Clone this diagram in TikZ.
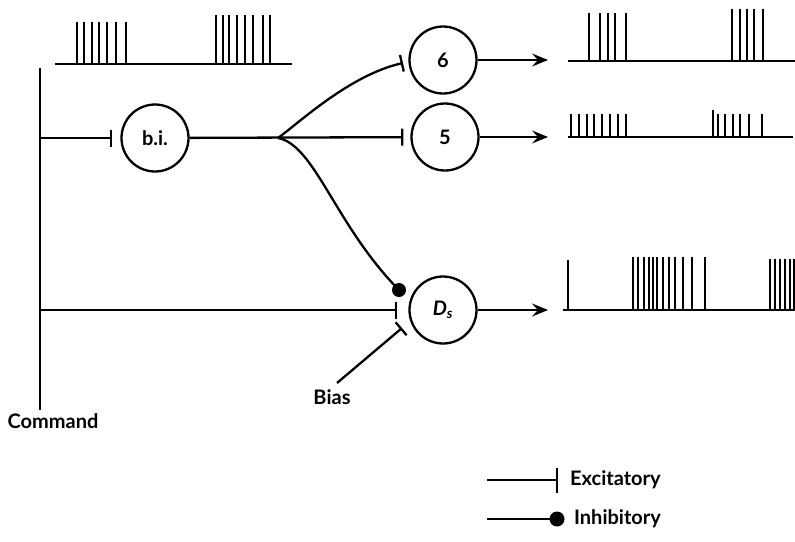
\documentclass[tikz,border=0pt]{standalone}
\usepackage{fontspec}
\setmainfont{Lato}
\usetikzlibrary{arrows.meta}
\begin{document}
\begin{tikzpicture}[x=1pt,y=-1pt,line width=2.3pt,line cap=butt,
  neuron/.style={circle,draw,line width=2.3pt,minimum size=67pt,inner sep=0pt,
    font=\fontsize{20}{22}\selectfont\bfseries},
  exc/.style={-{Bar[width=17pt]}},
  outarrow/.style={-{Stealth[length=16pt,width=13pt,inset=6pt]}},
  inhdot/.style={circle,fill,inner sep=0pt,minimum size=14pt},
  lbl/.style={font=\fontsize{20}{22}\selectfont\bfseries,inner sep=0pt},
  spike/.style={line width=2.9pt},
  baseline/.style={line width=2.6pt}]
\useasboundingbox (0,0) rectangle (795,541);

% command fibre
\coordinate (cmdtop) at (40,68);
\coordinate (cmdbot) at (40,410);
\draw[line width=2.6pt] (cmdtop) -- (cmdbot);
\node[lbl] (command) at (53,421) {Command};

% neurons
\node[neuron] (bi) at (155,138) {b.i.};
\node[neuron] (n6) at (443,60) {6};
\node[neuron] (n5) at (445,137) {5};
\node[neuron] (ds) at (443,310) {\itshape D\textsubscript{\itshape s}};

% branch taps on the command fibre
\coordinate (cmdbi) at (40,138);
\coordinate (cmdds) at (40,310);
\coordinate (fork) at (278,138);
\coordinate (syn6) at (403,63);
\coordinate (synds) at (397,310);
\node[inhdot] (dsinh) at (399,290) {};

\draw[exc,shorten >=8pt] (cmdbi) -- (bi);
\draw[exc,shorten >=7pt] (bi) -- (n5);
\draw[exc] (fork) .. controls (300,122) and (350,75) .. (syn6);
\draw (fork) .. controls (315,145) and (335,225) .. (dsinh.center);
\draw[exc] (cmdds) -- (synds);

% bias input
\node[lbl] (bias) at (332,397) {Bias};
\coordinate (biasfoot) at (337,383);
\coordinate (biassyn) at (402,328);
\draw[exc] (biasfoot) -- (biassyn);

% outputs
\coordinate (out6) at (548,60);
\coordinate (out5) at (548,137);
\coordinate (outds) at (548,310);
\draw[outarrow] (n6) -- (out6);
\draw[outarrow] (n5) -- (out5);
\draw[outarrow] (ds) -- (outds);

% spike train of the command fibre
\draw[baseline] (55,64) -- (292,64);
\foreach \x in {77,84,92,99,107,116,126} \draw[spike] (\x,64) -- (\x,22);
\foreach \x in {216,223,229,237,245,253,263,270} \draw[spike] (\x,64) -- (\x,15);

% spike train of neuron 6
\draw[baseline] (568,61) -- (795,61);
\foreach \x in {589,600,608,615,626} \draw[spike] (\x,61) -- (\x,13);
\foreach \x in {732,740,747,754,763} \draw[spike] (\x,61) -- (\x,9);

% spike train of neuron 5
\draw[baseline] (568,137) -- (793,137);
\foreach \x in {571,579,587,594,602,610,618,626} \draw[spike] (\x,137) -- (\x,114);
\draw[spike] (713,137) -- (713,110);
\foreach \x in {718,725,733,740,749,762} \draw[spike] (\x,137) -- (\x,114);

% spike train of D_s
\draw[baseline] (563,310) -- (795,310);
\draw[spike] (568,310) -- (568,260);
\foreach \x in {633,638,644,649,653,657,663,669,675,683,692,705} \draw[spike] (\x,310) -- (\x,257);
\foreach \x in {770,775,780,785,790,794} \draw[spike] (\x,310) -- (\x,259);

% key
\coordinate (keyexc) at (487,480);
\coordinate (keyexcend) at (558,480);
\draw[-{Bar[width=25pt]}] (keyexc) -- (keyexcend);
\node[lbl,anchor=west] (exclabel) at (569,480) {Excitatory};
\coordinate (keyinh) at (487,519);
\node[inhdot,minimum size=15pt] (keydot) at (557,519) {};
\draw (keyinh) -- (keydot.center);
\node[lbl,anchor=west] (inhlabel) at (573,519) {Inhibitory};
\end{tikzpicture}
\end{document}
